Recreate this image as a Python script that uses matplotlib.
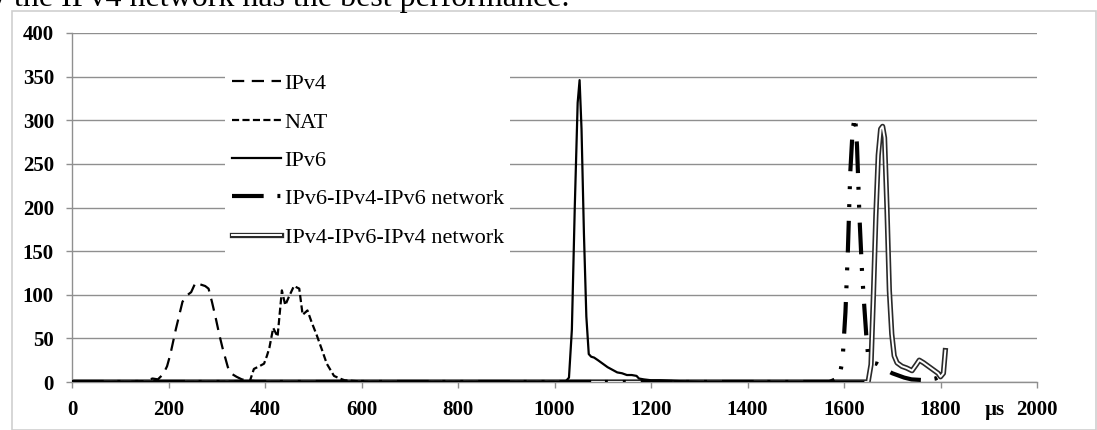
import matplotlib
matplotlib.use("Agg")
import matplotlib.pyplot as plt
from matplotlib.legend_handler import HandlerTuple
from matplotlib.patches import Rectangle

plt.rcParams['font.family'] = ['Liberation Serif', 'DejaVu Serif']

# ---------------- data ----------------
x_ipv4 = [0, 100, 150, 167, 178, 189, 197, 204, 215, 229, 240, 247, 256, 265, 276, 283, 290, 298, 305, 312, 323, 332, 341, 352, 363, 380, 400, 1000]
y_ipv4 = [0, 0, 1, 4, 3, 9, 18, 32, 60, 92, 100, 103, 114, 112, 110, 107, 92, 73, 55, 39, 17, 9, 6, 3, 2, 1, 0, 0]

x_nat = [0, 300, 350, 368, 377, 388, 398, 404, 409, 417, 426, 435, 442, 449, 460, 471, 478, 488, 497, 507, 518, 528, 543, 555, 565, 590, 620, 1000]
y_nat = [0, 0, 1, 0, 15, 18, 21, 30, 39, 62, 52, 105, 88, 97, 110, 107, 77, 82, 68, 54, 37, 21, 7, 4, 2, 1, 0, 0]

x_ipv6 = [0, 1000, 1022, 1030, 1036, 1042, 1048, 1052, 1056, 1061, 1066, 1071, 1076, 1082, 1090, 1100, 1110, 1120, 1130, 1140, 1150, 1160, 1170, 1175, 1185, 1200, 1220, 1260, 1300, 1640]
y_ipv6 = [0, 0, 0, 5, 60, 200, 320, 346, 290, 170, 75, 32, 29, 28, 25, 21, 17, 14, 11, 10, 8, 8, 7, 4, 3, 2, 2, 1, 0, 0]

x_646 = [0, 1570, 1590, 1597, 1603, 1608, 1613, 1618, 1623, 1627, 1632, 1637, 1641, 1646, 1650, 1658, 1668, 1680, 1690, 1700, 1710, 1725, 1740, 1770, 1790, 1805]
y_646 = [0, 0, 5, 25, 80, 150, 240, 290, 305, 270, 190, 130, 95, 55, 30, 22, 21, 17, 13, 10, 8, 5, 3, 2, 4, 9]

x_464 = [0, 1640, 1650, 1656, 1661, 1666, 1671, 1676, 1680, 1684, 1689, 1694, 1699, 1704, 1710, 1720, 1730, 1741, 1750, 1756, 1765, 1775, 1785, 1795, 1800, 1806, 1810]
y_464 = [0, 0, 0, 20, 100, 190, 260, 290, 293, 280, 200, 105, 55, 30, 22, 18, 16, 13, 20, 25, 22, 18, 14, 10, 6, 10, 36]

labels = ['IPv4', 'NAT', 'IPv6', 'IPv6-IPv4-IPv6 network', 'IPv4-IPv6-IPv4 network']
x_ticks = [0, 200, 400, 600, 800, 1000, 1200, 1400, 1600, 1800, 2000]
y_ticks = [0, 50, 100, 150, 200, 250, 300, 350, 400]
header_text = 'y the IPv4 network has the best performance.'

# ---------------- figure ----------------
W, H = 1097, 430
fig = plt.figure(figsize=(W / 100, H / 100), dpi=100)
fig.patch.set_facecolor('white')

# light page frame
fig.add_artist(Rectangle((12 / W, 0), (W - 13) / W, (H - 11) / H,
                         transform=fig.transFigure, fill=False,
                         edgecolor='#cfcfcf', linewidth=1.2))
fig.text(-10 / W, 1 - 6 / H, header_text, fontsize=23, va='baseline', ha='left',
         family=['Liberation Serif'])

ax = fig.add_axes([72 / W, 48 / H, (1037 - 72) / W, (382 - 33) / H])
ax.set_xlim(0, 2000)
ax.set_ylim(0, 400)

grid_c = '#8f8f8f'
for s in ['top', 'right']:
    ax.spines[s].set_visible(False)
for s in ['left', 'bottom']:
    ax.spines[s].set_color(grid_c)
    ax.spines[s].set_linewidth(1.0)

ax.set_xticks(x_ticks)
ax.set_yticks(y_ticks)
ax.yaxis.grid(True, color=grid_c, linewidth=1.0)
ax.set_axisbelow(True)
ax.tick_params(axis='both', color=grid_c, length=4, width=1.0, direction='out')
ax.tick_params(axis='x', pad=9)
ax.tick_params(axis='y', pad=9)
for lab in ax.get_xticklabels() + ax.get_yticklabels():
    lab.set_fontweight('bold')
    lab.set_fontsize(15)

ax.annotate('µs', xy=(1912, 0), xycoords=('data', 'axes fraction'),
            xytext=(0, -13), textcoords='offset points', ha='center', va='top',
            fontsize=15, fontweight='bold')

# series
l464b, = ax.plot(x_464, y_464, color='#2a2a2a', lw=3.8, solid_joinstyle='round', zorder=2)
l464w, = ax.plot(x_464, y_464, color='white', lw=1.4, solid_joinstyle='round', zorder=2.1)
l6, = ax.plot(x_ipv6, y_ipv6, color='black', lw=1.6, zorder=3)
l4, = ax.plot(x_ipv4, y_ipv4, color='black', lw=1.6, linestyle=(0, (5.5, 3.4)), zorder=3)
ln, = ax.plot(x_nat, y_nat, color='black', lw=1.6, linestyle=(0, (3.2, 1.5)), zorder=3)
l646, = ax.plot(x_646, y_646, color='black', lw=3.0,
                linestyle=(0, (7.6, 3.3, 0.7, 3.6, 0.7, 3.6)), zorder=4)

leg = fig.legend([l4, ln, l6, l646, (l464b, l464w)], labels,
                 loc='upper left', bbox_to_anchor=(225 / W, 1 - 67 / H),
                 bbox_transform=fig.transFigure,
                 handler_map={tuple: HandlerTuple(ndivide=1)},
                 frameon=True, fancybox=False, framealpha=1,
                 facecolor='white', edgecolor='none',
                 prop={'family': 'Liberation Serif', 'size': 16},
                 handlelength=2.2, handletextpad=0.18, labelspacing=0.80,
                 borderpad=0.3, borderaxespad=0)

fig.savefig('out.png', dpi=100)
